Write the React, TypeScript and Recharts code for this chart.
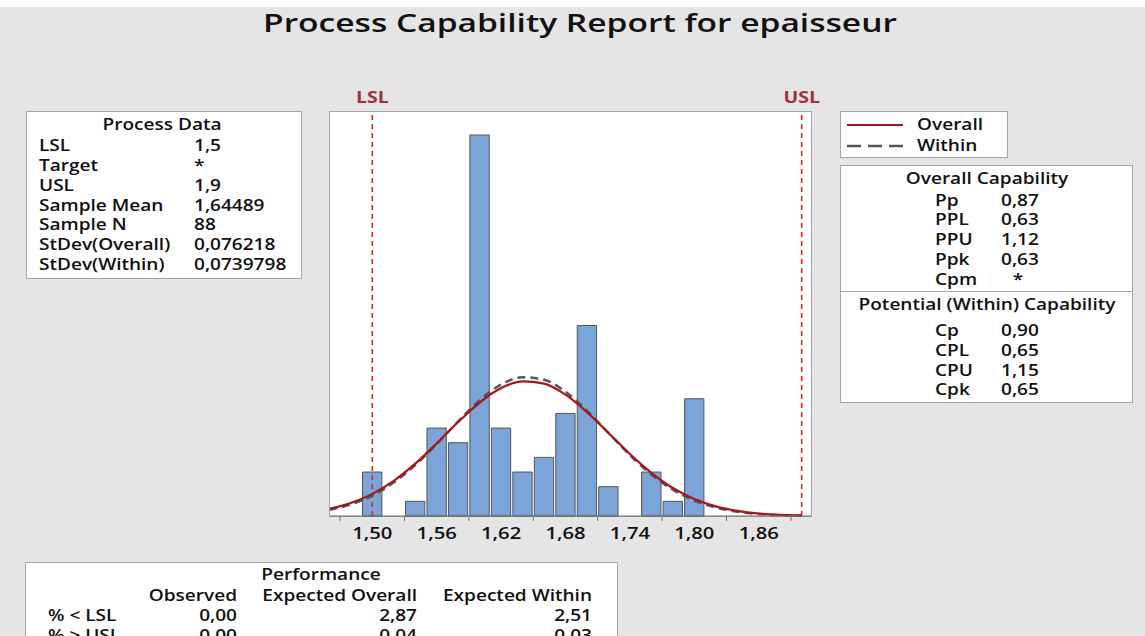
import React from 'react';
import { ComposedChart, Bar, Line, XAxis, YAxis, ReferenceLine } from 'recharts';

// histogram bins (width 0.02) and fitted curves read at the same x values
const xs = [1.46, 1.48, 1.5, 1.52, 1.54, 1.56, 1.58, 1.6, 1.62, 1.64, 1.66, 1.68, 1.7, 1.72, 1.74, 1.76, 1.78, 1.8, 1.82, 1.84, 1.86, 1.88, 1.9];
const counts = [null, null, 3, null, 1, 6, 5, 26, 6, 3, 4, 7, 13, 2, null, 3, 1, 8, null, null, null, null, null];
const overallFit = [0.49, 0.89, 1.51, 2.4, 3.57, 4.95, 6.41, 7.74, 8.73, 9.19, 9.03, 8.28, 7.09, 5.67, 4.23, 2.95, 1.91, 1.16, 0.66, 0.35, 0.17, 0.08, 0.03];
const withinFit = [0.42, 0.79, 1.39, 2.28, 3.47, 4.91, 6.46, 7.9, 8.97, 9.47, 9.3, 8.48, 7.19, 5.67, 4.15, 2.83, 1.79, 1.05, 0.58, 0.29, 0.14, 0.06, 0.03];

const labelTicks = [1.5, 1.56, 1.62, 1.68, 1.74, 1.8, 1.86];
const markTicks = [1.47, 1.53, 1.59, 1.65, 1.71, 1.77, 1.83, 1.89];
const LSL = 1.5;
const USL = 1.9;

const processLabels = ['LSL', 'Target', 'USL', 'Sample Mean', 'Sample N', 'StDev(Overall)', 'StDev(Within)'];
const processValues = ['1,5', '*', '1,9', '1,64489', '88', '0,076218', '0,0739798'];
const overallLabels = ['Pp', 'PPL', 'PPU', 'Ppk', 'Cpm'];
const overallValues = ['0,87', '0,63', '1,12', '0,63', '*'];
const withinLabels = ['Cp', 'CPL', 'CPU', 'Cpk'];
const withinValues = ['0,90', '0,65', '1,15', '0,65'];
const perfColumns = ['Observed', 'Expected Overall', 'Expected Within'];
const perfRows = ['% < LSL', '% > USL'];
const perfObserved = ['0,00', '0,00'];
const perfExpOverall = ['2,87', '0,04'];
const perfExpWithin = ['2,51', '0,03'];

const X_DOMAIN: [number, number] = [1.4606, 1.9087];
const Y_MAX = 27.57;
const PLOT_LEFT = 330;
const PLOT_TOP = 112;
const PLOT_W = 481;
const PLOT_H = 404;
const TOP_PAD = 30;
const BAR_W = (0.02 * PLOT_W) / (X_DOMAIN[1] - X_DOMAIN[0]);

const FONT = "'Open Sans', sans-serif";
const SX = 1.19;
const BOX_BORDER = '1px solid #a6a6a6';

const data = xs.map((x, i) => ({ x, count: counts[i], overall: overallFit[i], within: withinFit[i] }));
const axisTicks = [...labelTicks, ...markTicks].sort((a, b) => a - b);

function T({ x, y, children, align = 'left', size = 16, weight = 600, color = '#111', sx = SX }: any) {
  const shift = align === 'left' ? '0%' : align === 'center' ? '-50%' : '-100%';
  const lh = Math.round(size * 1.15);
  return (
    <div
      style={{
        position: 'absolute', left: x, top: y - lh / 2 - 0.03 * size,
        fontSize: size, lineHeight: `${lh}px`, fontWeight: weight, color,
        whiteSpace: 'nowrap', transformOrigin: '0 0',
        transform: `scaleX(${sx}) translateX(${shift})`,
      }}
    >
      {children}
    </div>
  );
}

function Box({ x, y, w, h }: any) {
  return <div style={{ position: 'absolute', left: x, top: y, width: w, height: h, background: '#fff', border: BOX_BORDER, boxSizing: 'border-box' }} />;
}

function AxisTick(props: any) {
  const { x, y, payload } = props;
  const v = payload.value;
  const isLabel = labelTicks.some(t => Math.abs(t - v) < 1e-6);
  if (!isLabel) return <line x1={x} x2={x} y1={y} y2={y + 5} stroke="#6e6e6e" />;
  return (
    <text transform={`translate(${x},${y + 23}) scale(${SX},1)`} textAnchor="middle" fontSize={17} fontWeight={600} fontFamily={FONT} fill="#111">
      {v.toFixed(2).replace('.', ',')}
    </text>
  );
}

function SpecLabel(props: any) {
  const { viewBox, text } = props;
  if (!viewBox) return null;
  return (
    <text transform={`translate(${viewBox.x},${viewBox.y - 9}) scale(1.22,1)`} textAnchor="middle" fontSize={16} fontWeight={700} fontFamily={FONT} fill="#a3303d">
      {text}
    </text>
  );
}

export default function App() {
  return (
    <div style={{ position: 'relative', width: 1145, height: 636, background: '#e5e5e5', overflow: 'hidden', fontFamily: FONT }}>
      <style>{'body{margin:0}'}</style>
      <div style={{ position: 'absolute', left: 0, top: 0, width: 1145, height: 7, background: '#fff' }} />

      <T x={580} y={23} align="center" size={26} weight={600} sx={1.29}>Process Capability Report for epaisseur</T>

      {/* Process data */}
      <Box x={26} y={111} w={276} h={168} />
      <T x={162} y={124.3} align="center">Process Data</T>
      {processLabels.map((l, i) => (
        <React.Fragment key={l}>
          <T x={39} y={145.8 + i * 19.75}>{l}</T>
          <T x={194} y={145.8 + i * 19.75}>{processValues[i]}</T>
        </React.Fragment>
      ))}

      {/* histogram */}
      <div style={{ position: 'absolute', left: PLOT_LEFT - 1, top: PLOT_TOP - 1, width: PLOT_W + 2, height: PLOT_H + 2, background: '#fff', border: BOX_BORDER, boxSizing: 'border-box' }} />
      <div style={{ position: 'absolute', left: PLOT_LEFT, top: PLOT_TOP - TOP_PAD }}>
        <ComposedChart width={PLOT_W + 20} height={PLOT_H + TOP_PAD + 30} data={data} margin={{ top: TOP_PAD, right: 20, bottom: 0, left: 0 }}>
          <XAxis
            dataKey="x" type="number" domain={X_DOMAIN} allowDataOverflow
            ticks={axisTicks} interval={0} tickSize={0} tickMargin={0} tickLine={false}
            axisLine={{ stroke: '#6e6e6e' }} tick={<AxisTick />} height={30}
          />
          <YAxis hide type="number" domain={[0, Y_MAX]} />
          <Bar dataKey="count" barSize={BAR_W} fill="#7ba4d9" stroke="#555" strokeWidth={1} isAnimationActive={false} />
          <ReferenceLine x={LSL} stroke="#e41a1c" strokeWidth={1.5} strokeDasharray="5 4" label={<SpecLabel text="LSL" />} />
          <ReferenceLine x={USL} stroke="#e41a1c" strokeWidth={1.5} strokeDasharray="5 4" label={<SpecLabel text="USL" />} />
          <Line dataKey="within" type="monotone" stroke="#555" strokeWidth={2.4} strokeDasharray="8 5" dot={false} isAnimationActive={false} />
          <Line dataKey="overall" type="monotone" stroke="#a8141c" strokeWidth={2.2} dot={false} isAnimationActive={false} />
        </ComposedChart>
      </div>

      {/* legend */}
      <Box x={840} y={111} w={168} h={47} />
      <svg style={{ position: 'absolute', left: 840, top: 111 }} width={168} height={47}>
        <line x1={7} x2={63} y1={14} y2={14} stroke="#a8141c" strokeWidth={2} />
        <line x1={7} x2={63} y1={35} y2={35} stroke="#555" strokeWidth={2.5} strokeDasharray="14 7" />
      </svg>
      <T x={917} y={124.3}>Overall</T>
      <T x={917} y={145}>Within</T>

      {/* capability */}
      <Box x={840} y={165} w={293} h={238} />
      <div style={{ position: 'absolute', left: 840, top: 291, width: 293, height: 1, background: '#a6a6a6' }} />
      <T x={986.7} y={178.3} align="center">Overall Capability</T>
      {overallLabels.map((l, i) => (
        <React.Fragment key={l}>
          <T x={935} y={200 + i * 19.75}>{l}</T>
          {overallValues[i] === '*'
            ? <T x={1018} y={200 + i * 19.75} align="center">*</T>
            : <T x={1000.7} y={200 + i * 19.75}>{overallValues[i]}</T>}
        </React.Fragment>
      ))}
      <T x={986.7} y={304.3} align="center">Potential (Within) Capability</T>
      {withinLabels.map((l, i) => (
        <React.Fragment key={l}>
          <T x={935} y={330.7 + i * 19.75}>{l}</T>
          <T x={1000.7} y={330.7 + i * 19.75}>{withinValues[i]}</T>
        </React.Fragment>
      ))}

      {/* performance */}
      <Box x={25} y={562} w={593} h={100} />
      <T x={321.3} y={574} align="center">Performance</T>
      {perfColumns.map((c, i) => (
        <T key={c} x={[236.7, 416.7, 591.7][i]} y={595} align="right">{c}</T>
      ))}
      {perfRows.map((r, i) => (
        <React.Fragment key={r}>
          <T x={48.3} y={615 + i * 20}>{r}</T>
          <T x={236.7} y={615 + i * 20} align="right">{perfObserved[i]}</T>
          <T x={416.7} y={615 + i * 20} align="right">{perfExpOverall[i]}</T>
          <T x={591.7} y={615 + i * 20} align="right">{perfExpWithin[i]}</T>
        </React.Fragment>
      ))}
    </div>
  );
}
